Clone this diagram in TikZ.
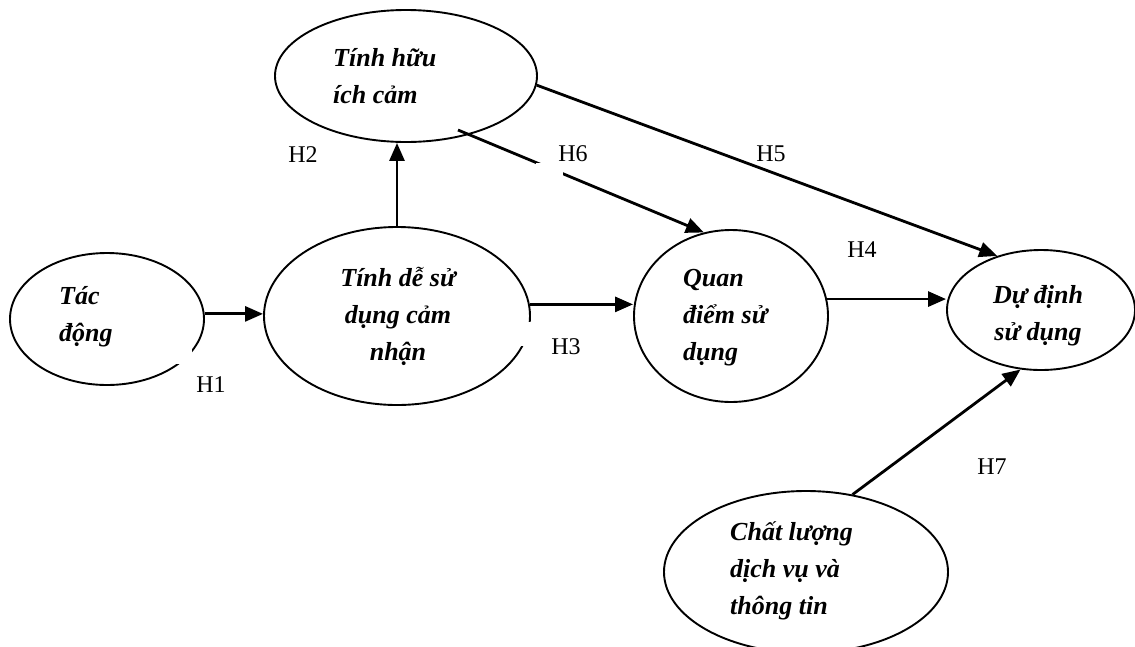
\documentclass[tikz,border=0pt]{standalone}
\usepackage{fontspec}
\setmainfont{Liberation Serif}
\usetikzlibrary{shapes.geometric,arrows.meta,calc}
\begin{document}
\begin{tikzpicture}[x=1pt,y=-1pt,
  ell/.style={draw,ellipse,line width=1.9pt,inner sep=0pt},
  txt/.style={font=\fontsize{26}{37}\selectfont\bfseries\itshape,inner sep=0pt},
  hlab/.style={font=\fontsize{24}{26}\selectfont,inner sep=0pt},
  arr/.style={line width=2.8pt,-{Triangle[length=18pt,width=15pt]}},
  patch/.style={fill=white,draw=none}]
\clip (0,0) rectangle (1135,646);
\useasboundingbox (0,0) rectangle (1135,646);
% ellipses
\node[ell,minimum width=194pt,minimum height=132pt] (tac) at (107,319) {};
\node[ell,minimum width=262pt,minimum height=132pt] (huu) at (406,76) {};
\node[ell,minimum width=266pt,minimum height=178pt] (de) at (397,316) {};
\node[ell,minimum width=194pt,minimum height=172pt] (quan) at (731,316) {};
\node[ell,minimum width=188pt,minimum height=120pt] (du) at (1041,310) {};
\node[ell,minimum width=284pt,minimum height=162pt] (chat) at (806,572) {};
% gaps in the outlines
\fill[patch] (172,343) rectangle (192,364);
\fill[patch] (518,322) rectangle (536,346);
% texts
\node[txt,align=left,anchor=west] (ttac) at (59,317) {Tác\\động};
\node[txt,align=left,anchor=west] (thuu) at (333,76) {Tính hữu\\ích cảm};
\node[txt,align=center] (tde) at (398,316) {Tính dễ sử\\dụng cảm\\nhận};
\node[txt,align=left,anchor=west] (tquan) at (683,318) {Quan\\điểm sử\\dụng};
\node[txt,align=center] (tdu) at (1038,316) {Dự định\\sử dụng};
\node[txt,align=left,anchor=west] (tchat) at (730,571) {Chất lượng\\dịch vụ và\\thông tin};
% connectors
\draw[arr] (tac.3) -- (tac.3 -| de.west);
\draw[arr] (de.north) -- (de.north |- huu.south);
\draw[arr] (de.5) -- (de.5 -| quan.west);
\draw[arr] (quan.10) -- (quan.10 -| du.west);
\draw[arr] (huu.-4) -- (du.129);
\draw[arr] ($(huu.center)+(52,54)$) -- (quan.108);
\fill[patch] (536,163) rectangle (563,181);
\draw[arr] (chat.59) -- (du.-109);
% labels
\node[hlab] (h1) at (211,385) {H1};
\node[hlab] (h2) at (303,155) {H2};
\node[hlab] (h3) at (566,347) {H3};
\node[hlab] (h4) at (862,250) {H4};
\node[hlab] (h5) at (771,154) {H5};
\node[hlab] (h6) at (573,154) {H6};
\node[hlab] (h7) at (992,467) {H7};
\end{tikzpicture}
\end{document}
